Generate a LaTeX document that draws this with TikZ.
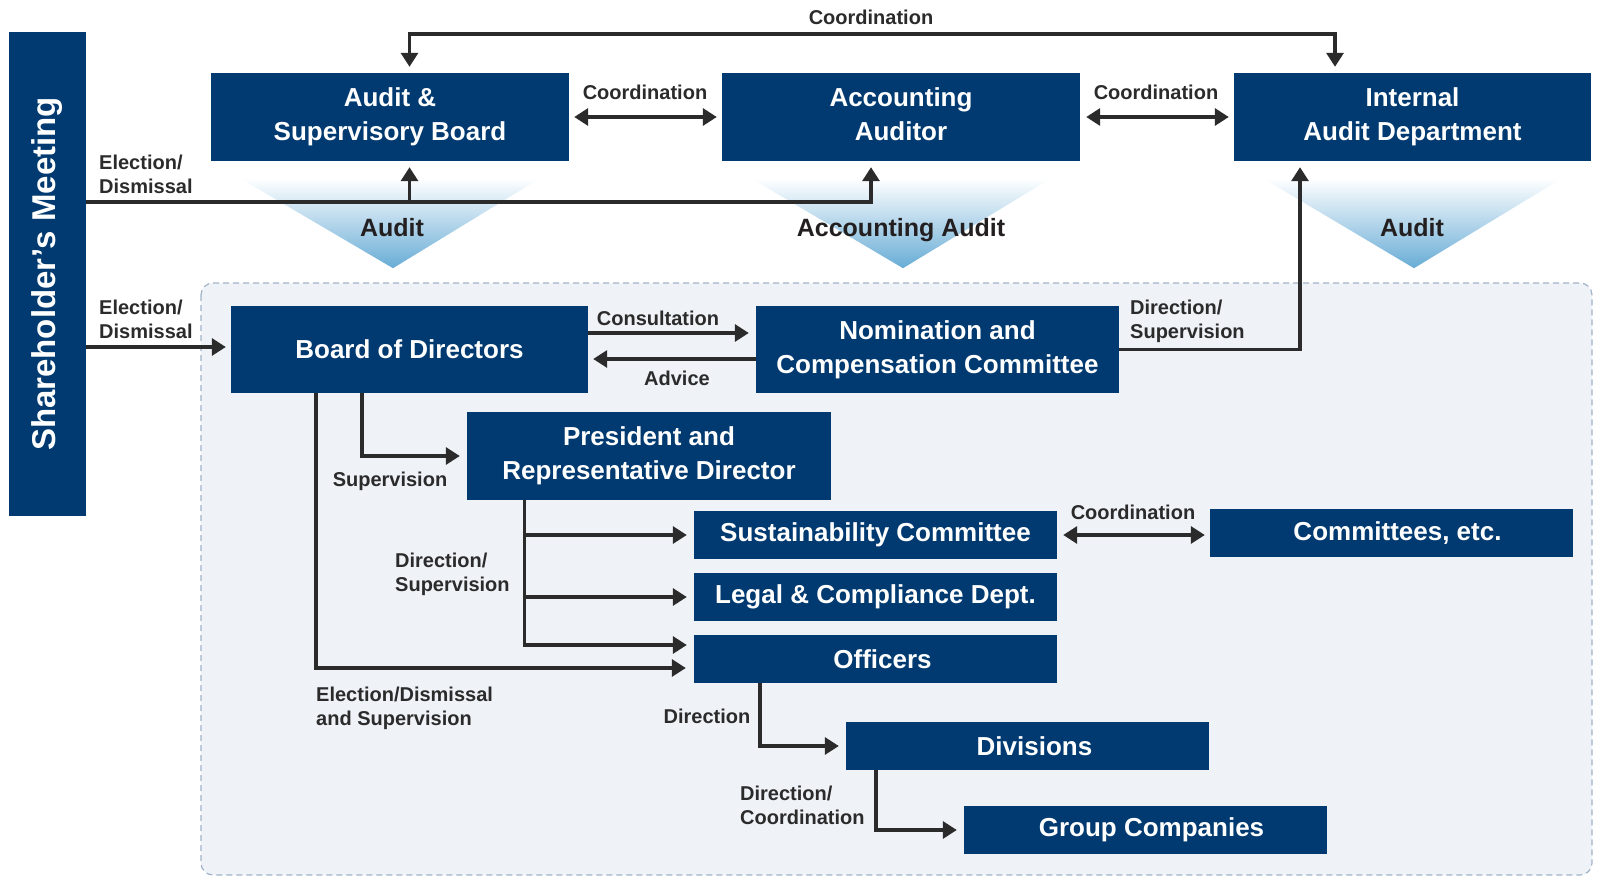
\documentclass[tikz,border=0pt]{standalone}
\usepackage{fontspec}
\setmainfont{Liberation Sans}
\usetikzlibrary{arrows.meta,calc}
\definecolor{navy}{RGB}{0,58,112}
\definecolor{ink}{RGB}{43,43,43}
\definecolor{tri}{RGB}{104,172,214}
\definecolor{bgfill}{RGB}{239,243,247}
\definecolor{bgline}{RGB}{160,178,198}
\definecolor{trilabel}{RGB}{35,31,32}
\begin{document}
\begin{tikzpicture}[x=1pt,y=-1pt,
  box/.style={fill=navy, draw=none, text=white, align=center, inner sep=0pt, font=\fontsize{26}{34}\selectfont\bfseries},
  lbl/.style={text=ink, font=\fontsize{20}{24}\selectfont\bfseries, inner sep=0pt},
  llbl/.style={lbl, align=left, anchor=west},
  tlbl/.style={text=trilabel, font=\fontsize{25}{30}\selectfont\bfseries, inner sep=0pt},
  conn/.style={draw=ink, line width=3.2pt, -{Triangle[length=14pt,width=17pt]}},
  conn2/.style={draw=ink, line width=3.2pt, {Triangle[length=14pt,width=17pt]}-{Triangle[length=14pt,width=17pt]}},
  tri/.style={top color=white, middle color=tri!45, bottom color=tri},
]
\useasboundingbox (0,0) rectangle (1600,883);
% background region
\draw[draw=bgline, fill=bgfill, dash pattern=on 6pt off 4pt, line width=1.2pt, rounded corners=12pt] (201,283) rectangle (1592,875);

% boxes
\node[box, minimum width=77pt, minimum height=484pt] (sh) at (47.5,274) {};
\node[text=white, rotate=90, font=\fontsize{33}{36}\selectfont\bfseries, inner sep=0pt] (shtext) at (sh.center) {Shareholder’s Meeting};
\node[box, minimum width=358pt, minimum height=88pt] (asb) at (390,117) {\strut Audit \&\\\strut Supervisory Board};
\node[box, minimum width=358pt, minimum height=88pt] (aa) at (901,117) {\strut Accounting\\\strut Auditor};
\node[box, minimum width=357pt, minimum height=88pt] (iad) at (1412.5,117) {\strut Internal\\\strut Audit Department};
\node[box, minimum width=357pt, minimum height=87pt] (bod) at (409.5,349.5) {Board of Directors};
\node[box, minimum width=363pt, minimum height=87pt] (ncc) at (937.5,349.5) {\strut Nomination and\\\strut Compensation Committee};
\node[box, minimum width=364pt, minimum height=88pt] (pres) at (649,456) {\strut President and\\\strut Representative Director};
\node[box, minimum width=363pt, minimum height=48pt] (sus) at (875.5,535) {Sustainability Committee};
\node[box, minimum width=363pt, minimum height=48pt] (legal) at (875.5,597) {Legal \& Compliance Dept.};
\node[box, minimum width=363pt, minimum height=48pt] (off) at (875.5,659) {\hspace*{14pt}Officers};
\node[box, minimum width=363pt, minimum height=48pt] (div) at (1027.5,746) {\hspace*{14pt}Divisions};
\node[box, minimum width=363pt, minimum height=48pt] (grp) at (1145.5,830) {\hspace*{12pt}Group Companies};
\node[box, minimum width=363pt, minimum height=48pt] (com) at (1391.5,533) {\hspace*{12pt}Committees, etc.};

% audit triangles (faded top)
\shade[tri] ($(asb.south west)+(29,17)$) -- ($(asb.south east)+(-29,17)$) -- ($(asb.south)+(3,107)$) -- cycle;
\shade[tri] ($(aa.south west)+(29,17)$) -- ($(aa.south east)+(-29,17)$) -- ($(aa.south)+(2,107)$) -- cycle;
\shade[tri] ($(iad.south west)+(29,17)$) -- ($(iad.south east)+(-29,17)$) -- ($(iad.south)+(1.5,107)$) -- cycle;
\node[tlbl] (t1) at (392,228) {Audit};
\node[tlbl] (t2) at (901,230) {Accounting Audit};
\node[tlbl] (t3) at (1412,228) {Audit};

% helper coordinates
\coordinate (asbT) at ([xshift=19.5pt]asb.north);
\coordinate (iadT) at ([xshift=-77.5pt]iad.north);
\coordinate (asbB) at ([xshift=19.5pt]asb.south);
\coordinate (aaB) at ([xshift=-30pt]aa.south);
\coordinate (iadB) at ([xshift=-112.5pt]iad.south);
\coordinate (bodS1) at ([xshift=-47.5pt]bod.south);
\coordinate (bodS2) at ([xshift=-93.5pt]bod.south);
\coordinate (presS) at ([xshift=-124.5pt]pres.south);
\coordinate (offS) at ([xshift=-115.5pt]off.south);
\coordinate (divS) at ([xshift=-151.5pt]div.south);

% connectors
\draw[conn2, shorten <=6pt, shorten >=6pt] (asbT) -- (asbT |- 0,34) -- (iadT |- 0,34) -- (iadT);
\node[lbl] (lc0) at (871,17) {Coordination};
\draw[conn2, shorten <=5pt, shorten >=5pt] (asb.east) -- (aa.west);
\node[lbl] (lc1) at (645,92) {Coordination};
\draw[conn2, shorten <=6pt, shorten >=5pt] (aa.east) -- (iad.west);
\node[lbl] (lc2) at (1156,92) {Coordination};

\draw[conn, shorten >=6pt] (sh.east |- 0,202) -| (aaB);
\draw[conn, shorten >=6pt] (asbB |- 0,202) -- (asbB);
\node[llbl] (le1) at (99,174) {Election/\\Dismissal};

\draw[conn, shorten >=5pt] (sh.east |- 0,347) -- (bod.west |- 0,347);
\node[llbl] (le2) at (99,319) {Election/\\Dismissal};

\draw[conn, shorten >=7pt] (bod.east |- 0,333) -- (ncc.west |- 0,333);
\node[lbl] (lcons) at (658,318) {Consultation};
\draw[conn, shorten >=5pt] (ncc.west |- 0,359) -- (bod.east |- 0,359);
\node[lbl] (ladv) at (677,378) {Advice};

\draw[conn, shorten >=6pt] (ncc.east) -| (iadB);
\node[llbl] (lds1) at (1130,321) {Direction/\\Supervision};

\draw[conn, shorten >=7pt] (bodS1) |- (pres.west);
\node[lbl] (lsup) at (390,481) {Supervision};

\draw[conn, shorten >=8pt] (bodS2) |- (off.west |- 0,668);
\node[llbl] (leds) at (316,708) {Election/Dismissal\\and Supervision};

\draw[conn, shorten >=7pt] (presS) |- (off.west |- 0,645);
\draw[conn, shorten >=7pt] (presS |- sus.west) -- (sus.west);
\draw[conn, shorten >=7pt] (presS |- legal.west) -- (legal.west);
\node[llbl] (lds2) at (395,574) {Direction/\\Supervision};

\draw[conn, shorten >=7pt] (offS) |- (div.west);
\node[lbl] (ldir) at (707,716) {Direction};

\draw[conn, shorten >=7pt] (divS) |- (grp.west);
\node[llbl] (ldc) at (740,805) {Direction/\\Coordination};

\draw[conn2, shorten <=6pt, shorten >=5pt] (sus.east) -- (sus.east -| com.west);
\node[lbl] (lc3) at (1133,512) {Coordination};
\end{tikzpicture}
\end{document}
